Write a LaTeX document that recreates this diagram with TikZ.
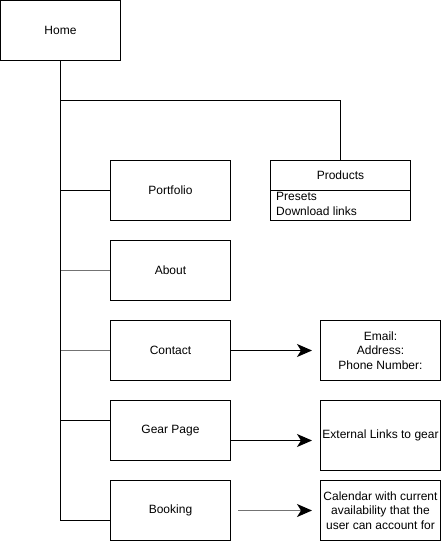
\documentclass[tikz,border=0pt]{standalone}
\usepackage{fontspec}
\setmainfont{Liberation Sans}
\usetikzlibrary{arrows.meta}
\begin{document}
\begin{tikzpicture}[x=1pt,y=-1pt,
  box/.style={draw=black,line width=1pt,minimum width=120pt,minimum height=60pt,inner sep=0pt,align=center,font=\fontsize{12}{14.4}\selectfont},
  link/.style={draw=black,line width=1pt},
  glink/.style={draw=black!55,line width=1.6pt},
  arr/.style={line width=1pt,-{Stealth[length=15pt,width=13pt,inset=4pt,color=black]}},
  txt/.style={inner sep=0pt,font=\fontsize{12}{14.4}\selectfont}]
\useasboundingbox (0,0) rectangle (441,541);
\node[box] (home) at (60.5,30.5) {Home};
\node[box] (portfolio) at (170.5,190.5) {Portfolio};
\node[box] (about) at (170.5,270.5) {About};
\node[box] (contact) at (170.5,350.5) {Contact};
\node[box] (gear) at (170.5,430.5) {Gear Page};
\node[box] (booking) at (170.5,510.5) {Booking};
% Products
\node[draw,line width=1pt,minimum width=140pt,minimum height=60pt,inner sep=0pt] (products) at (340.5,190.5) {};
\draw[line width=1pt] (products.west |- 0,190.5) -- (products.east |- 0,190.5);
\node[txt] (ptitle) at (340.5,175.5) {Products};
\node[txt,anchor=north west,align=left] (plist) at (276,192.5) {Presets\\Download links};
% right boxes
\node[box] (info) at (380.5,350.5) {Email:\\Address:\\Phone Number:};
\node[box] (ext) at (380.5,435.5) [minimum height=70pt] {External Links to gear};
\node[box] (cal) at (380.5,510.5) {Calendar with current\\availability that the\\user can account for};
% tree
\coordinate (j) at (60.5,100.5);
\coordinate (jr) at (340.5,100.5);
\coordinate (bp) at (60.5,190.5);
\coordinate (ba) at (60.5,270.5);
\coordinate (bc) at (60.5,350.5);
\coordinate (bg) at (60.5,420.5);
\coordinate (bb) at (60.5,520.5);
\draw[link] (home.south) -- (bb) -- (booking.west |- bb);
\draw[link] (j) -- (jr) -- (products.north);
\draw[link] (bp) -- (portfolio.west);
\draw[glink] (ba) -- (about.west);
\draw[glink] (bc) -- (contact.west);
\draw[link] (bg) -- (gear.west |- bg);
% arrows
\coordinate (ct) at (312,350.5);
\coordinate (gt) at (312,440.5);
\coordinate (bs) at (238,510.5);
\coordinate (bt) at (312,510.5);
\draw[arr] (contact.east) -- (ct);
\draw[arr] (gear.east |- gt) -- (gt);
\draw[arr,draw=black!55,line width=1.4pt] (bs) -- (bt);
\end{tikzpicture}
\end{document}
